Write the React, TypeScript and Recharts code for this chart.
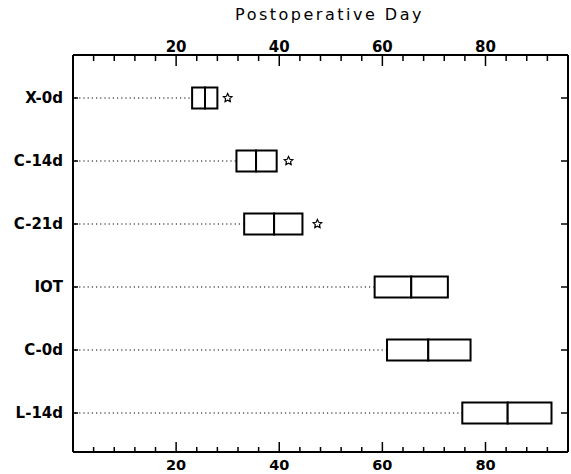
import React from "react";
import { ComposedChart, Bar, Scatter, XAxis, YAxis } from "recharts";

const groups = ["X-0d", "C-14d", "C-21d", "IOT", "C-0d", "L-14d"];
const q1 = [23.1, 31.7, 33.2, 58.5, 60.9, 75.5];
const median = [25.6, 35.5, 39.0, 65.6, 68.9, 84.3];
const q3 = [28.0, 39.5, 44.5, 72.7, 77.1, 92.8];
const starred = [30.0, 41.8, 47.4, null, null, null];
const dayTicks = [4, 8, 12, 16, 20, 24, 28, 32, 36, 40, 44, 48, 52, 56, 60, 64, 68, 72, 76, 80, 84, 88, 92];
const labeledDays = [20, 40, 60, 80];

const data = groups.map((name, i) => ({
  name,
  lead: q1[i],
  lower: median[i] - q1[i],
  upper: q3[i] - median[i],
  star: starred[i],
}));

const FONT = "'DejaVu Sans', sans-serif";
const M = 4;

const TopTick = ({ x, y, payload }: any) => {
  const v = payload.value;
  const major = labeledDays.includes(v);
  const axisY = y + M;
  return (
    <g>
      <line x1={x} y1={axisY} x2={x} y2={axisY + (major ? 11 : 6)} stroke="#000" strokeWidth={1.5} />
      {major && (
        <text x={x} y={axisY - 3} textAnchor="middle" fill="#000" fontSize={15} fontWeight="bold" fontFamily={FONT}>
          {v}
        </text>
      )}
    </g>
  );
};

const BottomTick = ({ x, y, payload }: any) => {
  const v = payload.value;
  const major = labeledDays.includes(v);
  const axisY = y - M;
  return (
    <g>
      <line x1={x} y1={axisY} x2={x} y2={axisY - (major ? 10 : 5)} stroke="#000" strokeWidth={1.5} />
      {major && (
        <text x={x} y={axisY + 18} textAnchor="middle" fill="#000" fontSize={14.5} fontWeight="bold" fontFamily={FONT}>
          {v}
        </text>
      )}
    </g>
  );
};

const Whisker = (props: any) => {
  const { x, y, width, height } = props;
  const cy = y + height / 2;
  return <line x1={x + 2} y1={cy} x2={x + width} y2={cy} stroke="#000" strokeWidth={1.2} strokeDasharray="1.2 3" />;
};

const Star = ({ cx, cy }: any) => {
  if (!Number.isFinite(cx) || !Number.isFinite(cy)) return null;
  const pts: string[] = [];
  for (let k = 0; k < 10; k++) {
    const r = k % 2 === 0 ? 4.5 : 2.2;
    const a = -Math.PI / 2 + (k * Math.PI) / 5;
    pts.push(`${cx + r * Math.cos(a)},${cy + r * Math.sin(a)}`);
  }
  return <polygon points={pts.join(" ")} fill="#fff" stroke="#000" strokeWidth={1.2} />;
};

const axisLine = { stroke: "#000", strokeWidth: 2 };

export default function App() {
  return (
    <div style={{ position: "absolute", left: 0, top: 0, background: "#fff" }}>
      <ComposedChart
        width={571}
        height={474}
        data={data}
        layout="vertical"
        margin={{ top: 0, right: 0, bottom: 0, left: 0 }}
        style={{ fontFamily: FONT }}
      >
        <XAxis
          xAxisId="t"
          orientation="top"
          type="number"
          domain={[0, 96]}
          ticks={dayTicks}
          interval={0}
          height={55}
          tickSize={0}
          tickMargin={M}
          tickLine={false}
          axisLine={axisLine}
          tick={<TopTick />}
          label={{
            value: "Postoperative Day",
            position: "insideTop",
            offset: 9,
            dx: 9,
            fill: "#000",
            fontSize: 16,
            style: { letterSpacing: "2.5px", fontFamily: FONT },
          }}
        />
        <XAxis
          xAxisId="b"
          orientation="bottom"
          type="number"
          domain={[0, 96]}
          ticks={dayTicks}
          interval={0}
          height={22}
          tickSize={0}
          tickMargin={M}
          tickLine={false}
          axisLine={axisLine}
          tick={<BottomTick />}
        />
        <YAxis
          yAxisId="l"
          type="category"
          dataKey="name"
          width={73}
          interval={0}
          padding={{ top: 11.5, bottom: 7.5 }}
          tickSize={-5}
          tickMargin={15}
          axisLine={axisLine}
          tickLine={{ stroke: "#000", strokeWidth: 1.5 }}
          tick={{ fill: "#000", fontSize: 15, fontWeight: "bold", fontFamily: FONT }}
        />
        <YAxis
          yAxisId="r"
          orientation="right"
          type="category"
          dataKey="name"
          width={3}
          interval={0}
          padding={{ top: 11.5, bottom: 7.5 }}
          tickSize={-7}
          tickMargin={0}
          axisLine={axisLine}
          tickLine={{ stroke: "#000", strokeWidth: 1.5 }}
          tickFormatter={() => ""}
        />
        <Bar dataKey="lead" stackId="box" xAxisId="b" yAxisId="l" barSize={21} shape={<Whisker />} isAnimationActive={false} />
        <Bar dataKey="lower" stackId="box" xAxisId="b" yAxisId="l" barSize={21} fill="#fff" stroke="#000" strokeWidth={2} isAnimationActive={false} />
        <Bar dataKey="upper" stackId="box" xAxisId="b" yAxisId="l" barSize={21} fill="#fff" stroke="#000" strokeWidth={2} isAnimationActive={false} />
        <Scatter dataKey="star" xAxisId="t" yAxisId="r" shape={<Star />} isAnimationActive={false} />
      </ComposedChart>
    </div>
  );
}
